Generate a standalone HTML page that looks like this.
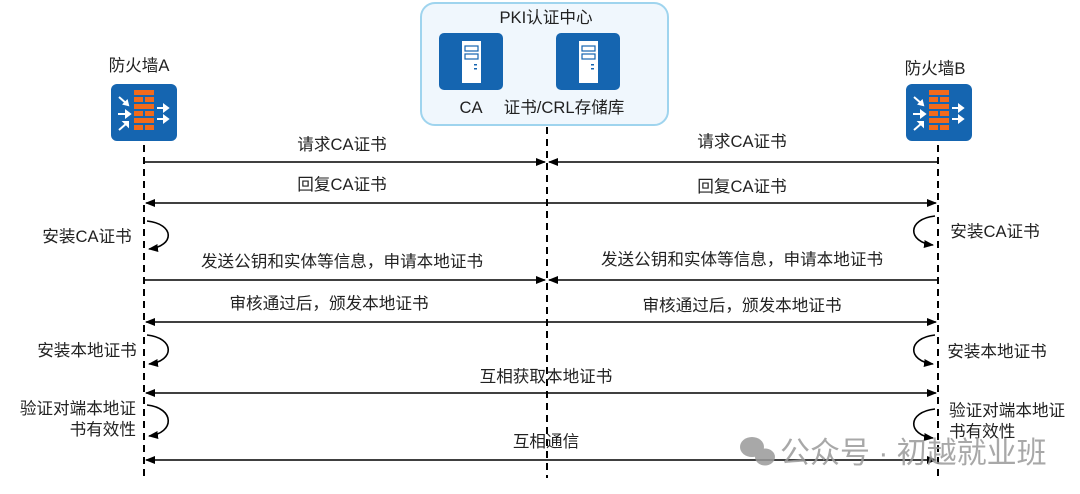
<!DOCTYPE html>
<html><head><meta charset="utf-8"><style>
html,body{margin:0;padding:0;background:#fff;}
svg{display:block;}
text{font-family:"Liberation Sans","Noto Sans CJK SC",sans-serif;font-size:16.6px;fill:#222;}
</style></head><body>
<svg width="1080" height="494" viewBox="0 0 1080 494" xmlns="http://www.w3.org/2000/svg">
<defs>
<marker id="ar" markerWidth="10" markerHeight="8" refX="9" refY="4" orient="auto" markerUnits="userSpaceOnUse">
<path d="M0,0 L10,4 L0,8 Z" fill="#000"/></marker>
<marker id="al" markerWidth="10" markerHeight="8" refX="1" refY="4" orient="auto" markerUnits="userSpaceOnUse">
<path d="M10,0 L0,4 L10,8 Z" fill="#000"/></marker>
<g id="fw">
<rect x="0" y="0" width="66" height="57" rx="6" fill="#1565b0"/>
<g fill="#f26a1b">
<rect x="23" y="6" width="20" height="5"/>
<rect x="23" y="13" width="9" height="5"/><rect x="34" y="13" width="9" height="5"/>
<rect x="23" y="20" width="20" height="5"/>
<rect x="23" y="27" width="9" height="5"/><rect x="34" y="27" width="9" height="5"/>
<rect x="23" y="34" width="20" height="5"/>
<rect x="23" y="41" width="9" height="5"/><rect x="34" y="41" width="9" height="5"/>
</g>
<g fill="#fff" stroke="#fff" stroke-width="2">
<path d="M8,13 L16,20" /><path d="M13,20 L17,21 L16,17 Z"/>
<path d="M7,30 L16,30"/><path d="M15,27 L19,30 L15,33 Z"/>
<path d="M8,46 L16,39"/><path d="M13,38 L17,38 L17,42 Z"/>
<path d="M46,24 L54,24"/><path d="M53,21 L57,24 L53,27 Z"/>
<path d="M46,35 L54,35"/><path d="M53,32 L57,35 L53,38 Z"/>
</g>
</g>
<g id="srv">
<rect x="0" y="0" width="64" height="57" rx="5" fill="#1565b0"/>
<rect x="23" y="8" width="19" height="42" fill="#fff"/>
<rect x="26" y="13" width="13" height="5" fill="none" stroke="#1565b0" stroke-width="1.2"/>
<rect x="26" y="21" width="13" height="5" fill="none" stroke="#1565b0" stroke-width="1.2"/>
<rect x="35" y="31" width="3" height="1.5" fill="#1565b0"/><rect x="35" y="35" width="3" height="1.5" fill="#1565b0"/>
</g>
</defs>

<rect x="421" y="3" width="247" height="122" rx="14" fill="#f0f7fd" stroke="#9fd4ee" stroke-width="2"/>
<text x="546" y="23" text-anchor="middle">PKI认证中心</text>
<use href="#srv" x="439" y="33"/>
<use href="#srv" x="556" y="33"/>
<text x="471" y="113" text-anchor="middle">CA</text>
<text x="564" y="113" text-anchor="middle">证书/CRL存储库</text>

<text x="139" y="71" text-anchor="middle">防火墙A</text>
<text x="935" y="74" text-anchor="middle">防火墙B</text>
<use href="#fw" x="111" y="84"/>
<use href="#fw" x="906" y="84"/>

<g stroke="#000" stroke-width="2" stroke-dasharray="7,5">
<line x1="144" y1="145" x2="144" y2="478"/>
<line x1="547" y1="127" x2="547" y2="478"/>
<line x1="938" y1="145" x2="938" y2="478"/>
</g>

<g stroke="#000" stroke-width="1.6" fill="none">
<line x1="144" y1="162" x2="545" y2="162" marker-end="url(#ar)"/>
<line x1="938" y1="162" x2="549" y2="162" marker-end="url(#ar)"/>
<line x1="146" y1="203" x2="936" y2="203" marker-start="url(#al)" marker-end="url(#ar)"/>
<line x1="144" y1="280" x2="545" y2="280" marker-end="url(#ar)"/>
<line x1="938" y1="280" x2="549" y2="280" marker-end="url(#ar)"/>
<line x1="146" y1="322" x2="936" y2="322" marker-start="url(#al)" marker-end="url(#ar)"/>
<line x1="146" y1="393" x2="936" y2="393" marker-start="url(#al)" marker-end="url(#ar)"/>
<line x1="146" y1="460" x2="936" y2="460" marker-start="url(#al)" marker-end="url(#ar)"/>
<path d="M147,221 C175,224 175,246 149,249" marker-end="url(#ar)"/>
<path d="M147,335 C175,338 175,361 149,364" marker-end="url(#ar)"/>
<path d="M147,405 C175,408 175,433 149,436" marker-end="url(#ar)"/>
<path d="M935,216 C907,219 907,242 933,245" marker-end="url(#ar)"/>
<path d="M935,335 C907,338 907,361 933,364" marker-end="url(#ar)"/>
<path d="M935,409 C907,412 907,435 933,438" marker-end="url(#ar)"/>
</g>

<text x="342" y="150" text-anchor="middle">请求CA证书</text>
<text x="742" y="147" text-anchor="middle">请求CA证书</text>
<text x="342" y="190" text-anchor="middle">回复CA证书</text>
<text x="742" y="192" text-anchor="middle">回复CA证书</text>
<text x="87" y="242" text-anchor="middle">安装CA证书</text>
<text x="995" y="237" text-anchor="middle">安装CA证书</text>
<text x="342" y="267" text-anchor="middle">发送公钥和实体等信息，申请本地证书</text>
<text x="742" y="265" text-anchor="middle">发送公钥和实体等信息，申请本地证书</text>
<text x="329" y="309" text-anchor="middle">审核通过后，颁发本地证书</text>
<text x="742" y="311" text-anchor="middle">审核通过后，颁发本地证书</text>
<text x="87" y="356" text-anchor="middle">安装本地证书</text>
<text x="997" y="357" text-anchor="middle">安装本地证书</text>
<text x="546" y="382" text-anchor="middle">互相获取本地证书</text>
<text x="136" y="414" text-anchor="end">验证对端本地证</text>
<text x="136" y="435" text-anchor="end">书有效性</text>
<text x="949" y="416">验证对端本地证</text>
<text x="949" y="437">书有效性</text>
<text x="546" y="447" text-anchor="middle">互相通信</text>

<g fill="#9a9a9a" opacity="0.85">
<ellipse cx="752" cy="447" rx="12" ry="10"/>
<ellipse cx="765" cy="457" rx="10" ry="8.5"/>
</g>
<text x="780" y="463" style="font-size:30px;fill:#9a9a9a;opacity:0.85">公众号 · 初越就业班</text>
</svg>
</body></html>
